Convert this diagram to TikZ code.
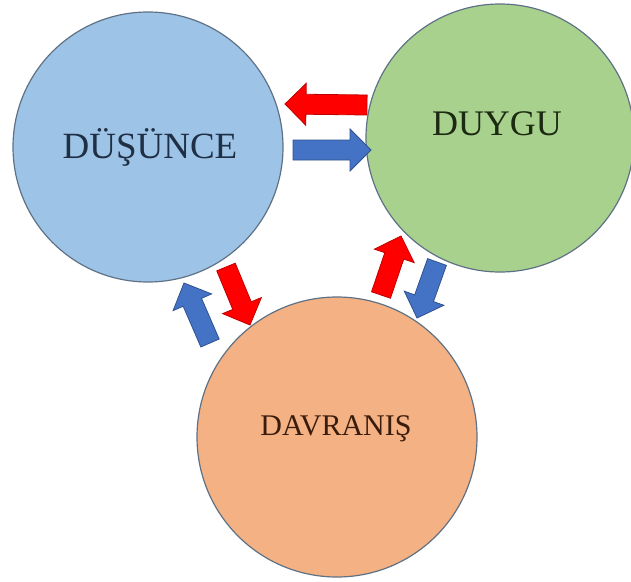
\documentclass[tikz,border=0pt]{standalone}
\usepackage{fontspec}
\setmainfont{Liberation Serif}
\usetikzlibrary{calc}

\definecolor{thinkblue}{HTML}{9DC3E6}
\definecolor{feelgreen}{HTML}{A9D18E}
\definecolor{actorange}{HTML}{F4B183}
\definecolor{ringgray}{HTML}{5F7285}
\definecolor{arrred}{HTML}{FF0000}
\definecolor{arrreddark}{HTML}{C00000}
\definecolor{arrblue}{HTML}{4472C4}
\definecolor{arrbluedark}{HTML}{2F528F}
\definecolor{thinkink}{HTML}{1F2F45}
\definecolor{feelink}{HTML}{1C2A12}
\definecolor{actink}{HTML}{3A1C0C}

% block arrow: style, tail, tip
\newcommand{\blockarrow}[3]{%
  \coordinate (hb) at ($(#3)!21pt!(#2)$);
  \filldraw[#1] ($(#2)!10pt!90:(#3)$) -- ($(hb)!10pt!90:(#3)$) -- ($(hb)!21pt!90:(#3)$) -- (#3)
    -- ($(hb)!21pt!-90:(#3)$) -- ($(hb)!10pt!-90:(#3)$) -- ($(#2)!10pt!-90:(#3)$) -- cycle;}

\begin{document}
\begin{tikzpicture}[x=1pt,y=-1pt,
    ring/.style={circle,draw=ringgray,line width=1.2pt,inner sep=0pt},
    word/.style={anchor=base,inner sep=0pt},
    redarr/.style={fill=arrred,draw=arrreddark,line width=0.8pt},
    bluearr/.style={fill=arrblue,draw=arrbluedark,line width=0.8pt}]
  \useasboundingbox (0,0) rectangle (631,581);

  \node[ring,fill=thinkblue,minimum size=270pt] (dusunce) at (148,147) {};
  \node[ring,fill=feelgreen,minimum size=268pt] (duygu) at (500,138) {};
  \node[ring,fill=actorange,minimum size=280pt] (davranis) at (337,437) {};

  \node[word,text=thinkink,font=\fontsize{37}{40}\selectfont] (t1) at (150,158) {DÜŞÜNCE};
  \node[word,text=feelink,font=\fontsize{36}{40}\selectfont] (t2) at (497,135) {DUYGU};
  \node[word,text=actink,font=\fontsize{30}{34}\selectfont] (t3) at (336,435) {DAVRANIŞ};

  % arrow ends
  \coordinate (a1) at (367,105); \coordinate (b1) at (285,104);
  \coordinate (a2) at (293,150); \coordinate (b2) at (371,150);
  \coordinate (a3) at (226,267); \coordinate (b3) at (250,325);
  \coordinate (a4) at (210,343); \coordinate (b4) at (184,283);
  \coordinate (a5) at (381,295); \coordinate (b5) at (401,236);
  \coordinate (a6) at (437,262); \coordinate (b6) at (417,318);

  \blockarrow{redarr}{a1}{b1}
  \blockarrow{bluearr}{a2}{b2}
  \blockarrow{redarr}{a3}{b3}
  \blockarrow{bluearr}{a4}{b4}
  \blockarrow{redarr}{a5}{b5}
  \blockarrow{bluearr}{a6}{b6}
\end{tikzpicture}
\end{document}
